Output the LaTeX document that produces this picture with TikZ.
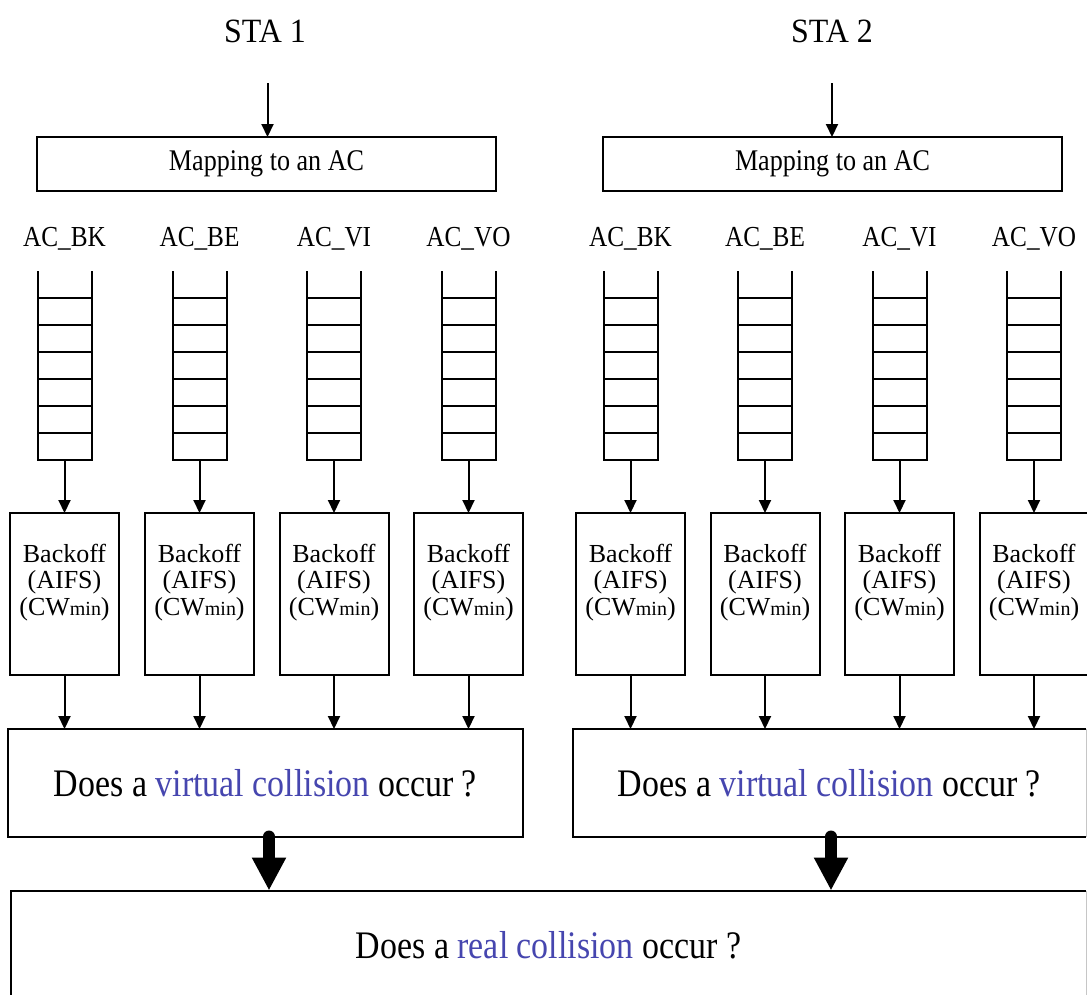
\documentclass[tikz,border=0pt]{standalone}
\usepackage{fontspec}
\setmainfont{Liberation Serif}
\newfontfamily\condf[FakeStretch=0.87]{Liberation Serif}
\newfontfamily\staf[FakeStretch=0.94]{Liberation Serif}
\newfontfamily\bofff{Liberation Serif}
\usetikzlibrary{arrows.meta}
\definecolor{vblue}{RGB}{70,70,175}
\begin{document}
\begin{tikzpicture}[x=1pt,y=-1pt,line width=2pt,
  arr/.style={-{Triangle[width=12pt,length=13pt]}},
  bigarr/.style={line width=12pt, line cap=round, -{Triangle[width=32pt,length=33pt]}},
  boxn/.style={rectangle, inner sep=0pt, outer sep=0pt, anchor=north west},
  queue/.style={rectangle, inner sep=0pt, outer sep=0pt, minimum width=54pt, minimum height=189pt},
  txt/.style={inner sep=0pt, outer sep=0pt, anchor=base},
  statxt/.style={txt, font=\staf\fontsize{34}{40}\selectfont},
  actxt/.style={txt, font=\condf\fontsize{29}{32}\selectfont},
  maptxt/.style={font=\condf\fontsize{30}{34}\selectfont},
  bigtxt/.style={font=\condf\fontsize{39}{44}\selectfont},
  bofftxt/.style={inner sep=0pt, outer sep=0pt, anchor=north, align=center, font=\bofff\fontsize{26}{26.5}\selectfont},
  faint/.style={draw=gray!45, line width=1pt}
]
\fill[white] (0,0) rectangle (1087,994);
\useasboundingbox (0,0) rectangle (1087,994);

% station titles
\node[statxt] (sta1) at (265,42) {STA 1};
\node[statxt] (sta2) at (832,42) {STA 2};
\coordinate (s1) at (267.5,83);
\coordinate (s2) at (832,83);

% mapping boxes
\node[boxn, draw, maptxt, minimum width=459pt, minimum height=54pt] (map1) at (37,137) {Mapping to an AC};
\node[boxn, draw, maptxt, minimum width=459pt, minimum height=54pt] (map2) at (603,137) {Mapping to an AC};
\draw[arr] (s1) -- (s1 |- map1.north);
\draw[arr] (s2) -- (s2 |- map2.north);

% virtual collision boxes
\node[boxn, draw, bigtxt, minimum width=515pt, minimum height=107.5pt] (v1) at (8,729)
  {Does a \textcolor{vblue}{virtual collision} occur ?};
\node[boxn, bigtxt, minimum width=513pt, minimum height=107.5pt] (v2) at (573,729)
  {Does a \textcolor{vblue}{virtual collision} occur ?};
\draw (v2.north east) -- (v2.north west) -- (v2.south west) -- (v2.south east);
\draw[faint] (v2.north east) -- (v2.south east);

% real collision box
\node[boxn, minimum width=1075pt, minimum height=120pt] (r) at (11,890.5) {};
\draw (r.south west) -- (r.north west) -- (r.north east);
\draw[faint] (r.north east) -- (r.south east);
\node[txt, bigtxt] (rt) at (548.5,958) {Does a \textcolor{vblue}{real collision} occur ?};

% queues and backoff boxes
\foreach \cx/\n/\lab/\v in {64.5/a/AC\_BK/v1, 199.5/b/AC\_BE/v1, 334/c/AC\_VI/v1, 468.5/d/AC\_VO/v1,
                            630.5/e/AC\_BK/v2, 765/f/AC\_BE/v2, 899.5/g/AC\_VI/v2, 1034/h/AC\_VO/v2} {
  \node[actxt] (l\n) at (\cx,246) {\lab};
  \node[queue] (q\n) at (\cx,365.5) {};
  \draw (q\n.north west) -- (q\n.south west) -- (q\n.south east) -- (q\n.north east);
  \foreach \k in {0,...,5} \draw (\cx-27,298+27*\k) -- (\cx+27,298+27*\k);
  \node[draw, rectangle, inner sep=0pt, outer sep=0pt, minimum width=109pt, minimum height=162pt] (b\n) at (\cx,594) {};
  \node[bofftxt] (bt\n) at (\cx,544) {Backoff\\(AIFS)\\(CW{\fontsize{20}{20}\selectfont min})};
  \draw[arr] (q\n.south) -- (b\n.north);
  \draw[arr] (b\n.south) -- (b\n.south |- \v.north);
}

% thick arrows to the real collision box
\draw[bigarr] ([xshift=3.5pt]v1.south) -- ([xshift=3.5pt]v1.south |- r.north);
\draw[bigarr] ([xshift=1.5pt]v2.south) -- ([xshift=1.5pt]v2.south |- r.north);
\end{tikzpicture}
\end{document}
